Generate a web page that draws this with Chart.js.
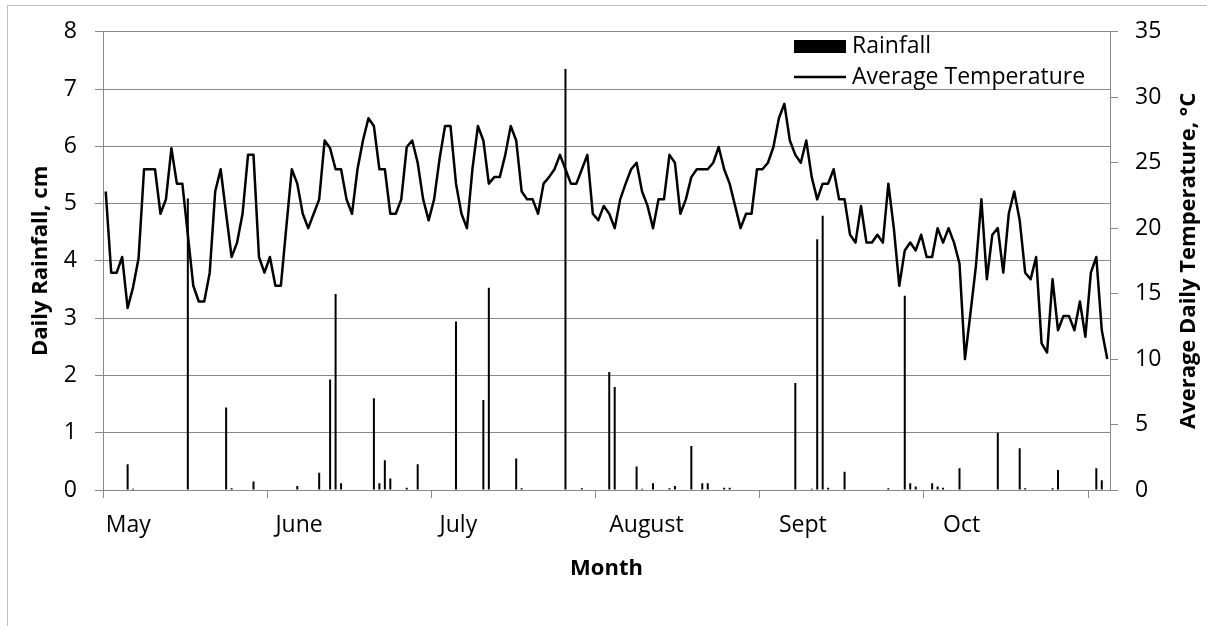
<!DOCTYPE html>
<html>
<head>
<meta charset="utf-8">
<script src="https://cdn.jsdelivr.net/npm/chart.js@4.4.0/dist/chart.umd.min.js"></script>
<style>
  html, body { margin: 0; padding: 0; background: #fff; }
  canvas { display: block; }
</style>
</head>
<body>
<canvas id="rainChart" width="1207" height="626"></canvas>
<script>
const monthNames = ['May', 'June', 'July', 'August', 'Sept', 'Oct'];
const monthDays = [31, 30, 31, 31, 30, 31];

// daily rainfall, cm
const rainMay = [0, 0, 0, 0, 0.45, 0.02, 0, 0, 0, 0, 0, 0, 0, 0, 0, 5.09, 0, 0, 0, 0, 0, 0, 1.44, 0.03, 0, 0, 0, 0.15, 0, 0, 0];
const rainJun = [0, 0, 0, 0, 0.07, 0, 0, 0, 0.3, 0, 1.93, 3.42, 0.12, 0, 0, 0, 0, 0, 1.6, 0.12, 0.52, 0.2, 0, 0, 0.04, 0, 0.45, 0, 0, 0];
const rainJul = [0, 0, 0, 2.94, 0, 0, 0, 0, 1.57, 3.53, 0, 0, 0, 0, 0.55, 0.03, 0, 0, 0, 0, 0, 0, 0, 7.35, 0, 0, 0.03, 0, 0, 0, 0];
const rainAug = [2.06, 1.8, 0, 0, 0, 0.41, 0.02, 0, 0.12, 0, 0, 0.03, 0.07, 0, 0, 0.77, 0, 0.12, 0.12, 0, 0, 0.04, 0.04, 0, 0, 0, 0, 0, 0, 0, 0];
const rainSep = [0, 0, 0, 1.87, 0, 0, 0.02, 4.38, 4.79, 0.04, 0, 0, 0.32, 0, 0, 0, 0, 0, 0, 0, 0.03, 0, 0, 3.39, 0.12, 0.06, 0, 0, 0.12, 0.06];
const rainOct = [0.04, 0, 0, 0.38, 0, 0, 0, 0, 0, 0, 1.0, 0, 0, 0, 0.73, 0.03, 0, 0, 0, 0, 0.03, 0.35, 0, 0, 0, 0, 0, 0, 0.38, 0.17, 0];

// average daily temperature, deg C
const tempMay = [22.8, 16.6, 16.6, 17.8, 13.9, 15.5, 17.7, 24.5, 24.5, 24.5, 21.1, 22.2, 26.1, 23.4, 23.4, 19.5, 15.6, 14.4, 14.4, 16.6, 22.8, 24.5, 21.1, 17.8, 18.9, 21.1, 25.6, 25.6, 17.8, 16.6, 17.8];
const tempJun = [15.6, 15.6, 20.1, 24.5, 23.4, 21.1, 20.0, 21.1, 22.2, 26.7, 26.1, 24.5, 24.5, 22.2, 21.1, 24.5, 26.7, 28.4, 27.8, 24.5, 24.5, 21.1, 21.1, 22.2, 26.2, 26.7, 25.0, 22.2, 20.6, 22.2];
const tempJul = [25.3, 27.8, 27.8, 23.4, 21.1, 20.0, 24.5, 27.8, 26.7, 23.4, 23.9, 23.9, 25.6, 27.8, 26.7, 22.8, 22.2, 22.2, 21.1, 23.4, 23.9, 24.5, 25.6, 24.5, 23.4, 23.4, 24.5, 25.6, 21.1, 20.6, 21.7];
const tempAug = [21.1, 20.0, 22.2, 23.4, 24.5, 25.0, 22.8, 21.7, 20.0, 22.2, 22.2, 25.6, 25.0, 21.1, 22.2, 23.9, 24.5, 24.5, 24.5, 25.0, 26.2, 24.5, 23.4, 21.7, 20.0, 21.1, 21.1, 24.5, 24.5, 25.0, 26.2];
const tempSep = [28.4, 29.5, 26.7, 25.6, 25.0, 26.7, 23.9, 22.2, 23.4, 23.4, 24.5, 22.2, 22.2, 19.5, 18.9, 21.7, 18.9, 18.9, 19.5, 18.9, 23.4, 20.0, 15.6, 18.3, 18.9, 18.3, 19.5, 17.8, 17.8, 20.0];
const tempOct = [18.9, 20.0, 18.9, 17.3, 10.0, 13.5, 17.1, 22.2, 16.1, 19.5, 20.0, 16.6, 21.1, 22.8, 20.6, 16.6, 16.1, 17.8, 11.2, 10.5, 16.1, 12.2, 13.3, 13.3, 12.2, 14.4, 11.7, 16.6, 17.8, 12.2, 10.0];

const rainfall = [].concat(rainMay, rainJun, rainJul, rainAug, rainSep, rainOct);
const temperature = [].concat(tempMay, tempJun, tempJul, tempAug, tempSep, tempOct);

// one category per day; month name shown on the first day of each month
const days = [];
const monthStart = {};
monthNames.forEach((m, k) => {
  monthStart[days.length] = m;
  for (let d = 1; d <= monthDays[k]; d++) days.push(m + ' ' + d);
});

const axisGray = '#898989';
const fontFamily = "'Open Sans', 'Liberation Sans', sans-serif";
Chart.defaults.font.family = fontFamily;
Chart.defaults.color = '#000';

// outer frame, right-hand title and legend are drawn by hand
const extras = {
  id: 'extras',
  beforeDraw(chart) {
    const ctx = chart.ctx;
    ctx.save();
    ctx.fillStyle = '#fff';
    ctx.fillRect(0, 0, chart.width, chart.height);
    ctx.strokeStyle = '#c0c0c0';
    ctx.lineWidth = 1;
    ctx.strokeRect(7.5, 5.5, 1400, 800);
    ctx.restore();
  },
  afterDraw(chart) {
    const ctx = chart.ctx;
    const area = chart.chartArea;
    ctx.save();
    ctx.fillStyle = '#000';
    ctx.textBaseline = 'middle';

    ctx.save();
    ctx.translate(1189, (area.top + area.bottom) / 2);
    ctx.rotate(-Math.PI / 2);
    ctx.textAlign = 'center';
    ctx.font = 'bold 22px ' + fontFamily;
    ctx.fillText('Average Daily Temperature, °C', 0, 0);
    ctx.restore();

    ctx.font = '23px ' + fontFamily;
    ctx.textAlign = 'left';
    ctx.fillRect(794, 40, 52, 13);
    ctx.fillText('Rainfall', 852, 46);
    ctx.strokeStyle = '#000';
    ctx.lineWidth = 2.5;
    ctx.beginPath();
    ctx.moveTo(794, 77);
    ctx.lineTo(846, 77);
    ctx.stroke();
    ctx.fillText('Average Temperature', 852, 77);
    ctx.restore();
  }
};

const ctxRain = document.getElementById('rainChart').getContext('2d');

const rainChart = new Chart(ctxRain, {
  type: 'bar',
  data: {
    labels: days,
    datasets: [{
      type: 'line',
      label: 'Average Temperature',
      data: temperature,
      yAxisID: 'y1',
      borderColor: '#000',
      borderWidth: 2.5,
      borderJoinStyle: 'round',
      pointRadius: 0,
      tension: 0
    }, {
      label: 'Rainfall',
      data: rainfall,
      yAxisID: 'y',
      backgroundColor: '#000',
      barThickness: 2,
      inflateAmount: 0
    }]
  },
  options: {
    responsive: false,
    animation: false,
    devicePixelRatio: 1,
    layout: { padding: { top: 30, left: 0, right: 0, bottom: 0 } },
    plugins: {
      legend: { display: false },
      tooltip: { enabled: false }
    },
    scales: {
      x: {
        afterFit: (scale) => { scale.height = 136; },
        grid: {
          drawOnChartArea: false,
          tickLength: 8,
          tickColor: (c) => (c.index % 30 === 0 ? axisGray : 'rgba(0,0,0,0)')
        },
        border: { color: axisGray },
        ticks: {
          autoSkip: false,
          maxRotation: 0,
          align: 'start',
          padding: 14,
          font: { size: 23 },
          callback: (value, index) => monthStart[index] || ''
        },
        title: {
          display: true,
          text: 'Month',
          font: { size: 22, weight: 'bold' },
          padding: { top: 0, bottom: 44 }
        }
      },
      y: {
        position: 'left',
        min: 0,
        max: 8,
        afterFit: (scale) => { scale.width = 103; },
        grid: { color: axisGray, tickLength: 8 },
        border: { color: axisGray },
        ticks: { stepSize: 1, padding: 18, font: { size: 23 } },
        title: {
          display: true,
          text: 'Daily Rainfall, cm',
          font: { size: 22, weight: 'bold' },
          padding: { top: 28, bottom: 0 }
        }
      },
      y1: {
        position: 'right',
        min: 0,
        max: 35,
        afterFit: (scale) => { scale.width = 97; },
        grid: { drawOnChartArea: false, color: axisGray, tickLength: 8 },
        border: { color: axisGray },
        ticks: { stepSize: 5, padding: 17, font: { size: 23 } }
      }
    }
  },
  plugins: [extras]
});
</script>
</body>
</html>
